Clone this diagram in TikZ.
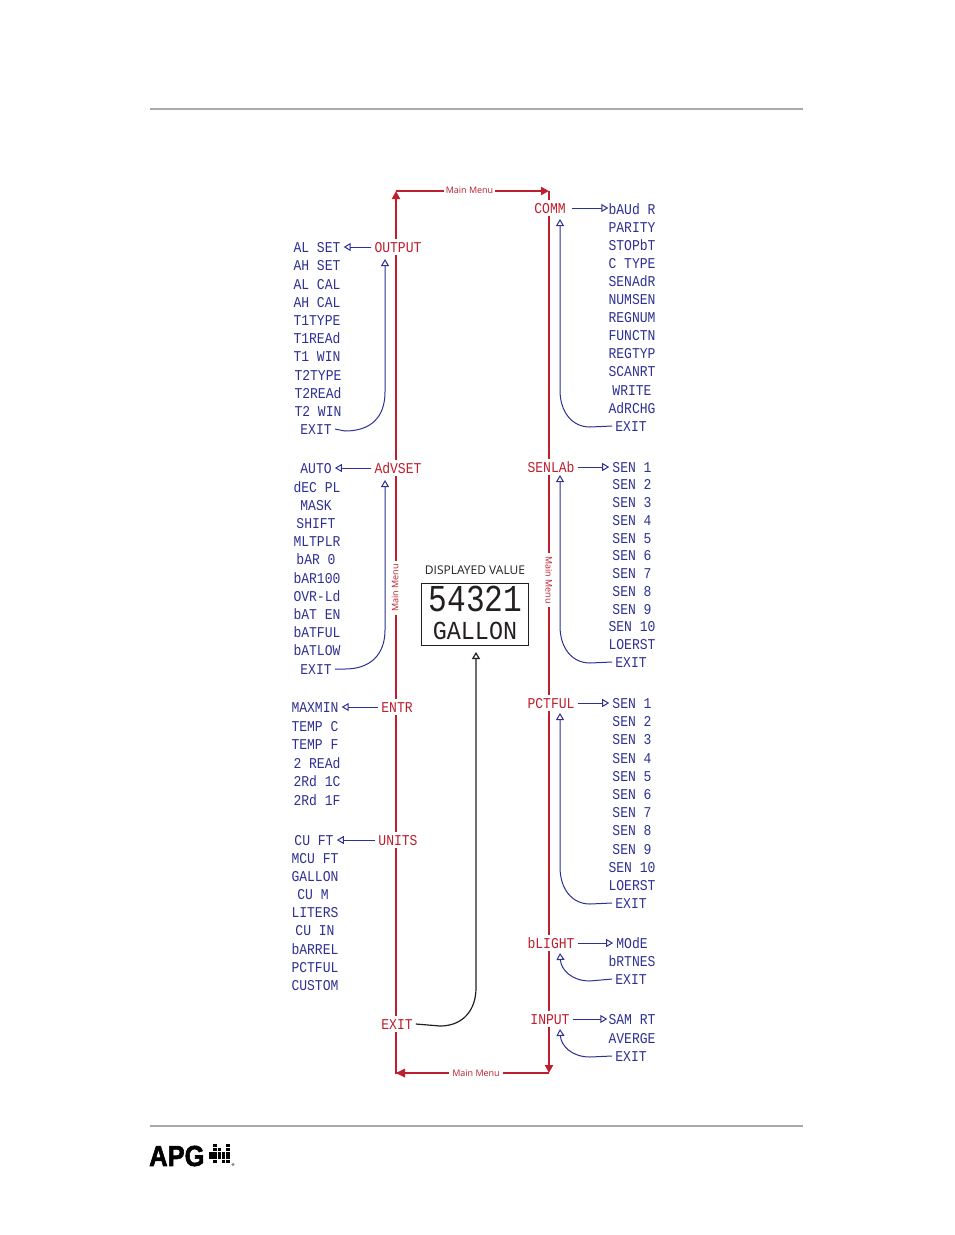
\documentclass[tikz,border=0pt]{standalone}
\usepackage{fontspec}
\usetikzlibrary{arrows.meta}
\setmainfont{Open Sans}
\newfontfamily\lcdsmall[FakeStretch=0.87]{Liberation Mono}
\newfontfamily\lcdnum[FakeStretch=0.82]{Liberation Mono}
\newfontfamily\lcdword[FakeStretch=0.9]{Liberation Mono}
\newfontface\logofont[FakeStretch=0.88,FakeBold=2]{Liberation Sans Bold}
\definecolor{menublue}{HTML}{2E3192}
\definecolor{menured}{HTML}{BE1E2D}
\definecolor{rulegrey}{HTML}{A7A9AC}
\definecolor{dispblack}{HTML}{231F20}
\tikzset{
  itemtext/.style={inner xsep=3pt,inner ysep=3pt,text height=10pt,text depth=0pt,font=\lcdsmall\fontsize{15}{15}\selectfont},
  subitem/.style={itemtext,text=menublue},
  headitem/.style={itemtext,text=menured},
  spine/.style={draw=menured,line width=2.4pt},
  spinearrow/.style={spine,-{Triangle[length=8pt,width=8pt]}},
  sub/.style={draw=menublue,line width=1pt},
  subarrow/.style={sub,-{Triangle[open,length=7pt,width=8pt]}},
  backarrow/.style={draw=dispblack,line width=1.2pt,-{Triangle[open,length=7pt,width=8pt]}},
  mainlabel/.style={font=\fontsize{9}{9}\selectfont,text=menured,inner sep=0pt},
  hrule/.style={draw=rulegrey,line width=2pt}
}
\newcommand{\itm}[4]{\node[subitem] (#1) at (#2,#3) {#4};}
\newcommand{\hed}[4]{\node[headitem] (#1) at (#2,#3) {#4};}
\begin{document}
\begin{tikzpicture}[x=1pt,y=-1pt]
\useasboundingbox[fill=white] (0,0) rectangle (954,1235);
% rules
\coordinate (t1) at (150,109); \coordinate (t2) at (803,109);
\coordinate (b1) at (150,1126); \coordinate (b2) at (803,1126);
\draw[hrule] (t1) -- (t2);
\draw[hrule] (b1) -- (b2);
% corners
\coordinate (tl) at (396,191); \coordinate (tr) at (549,191);
\coordinate (bl) at (396,1073); \coordinate (br) at (549,1073);
% heads
\hed{output}{398}{247}{OUTPUT}
\hed{advset}{398}{468}{AdVSET}
\hed{entr}{397}{707}{ENTR}
\hed{units}{398}{840}{UNITS}
\hed{lexit}{397}{1024}{EXIT}
\hed{comm}{550}{208}{COMM}
\hed{senlab}{551}{467}{SENLAb}
\hed{pctful}{551}{703}{PCTFUL}
\hed{blight}{551}{943}{bLIGHT}
\hed{input}{550}{1019}{INPUT}
% output items
\itm{o1}{317}{247}{AL SET}
\itm{o2}{317}{265}{AH SET}
\itm{o3}{317}{284}{AL CAL}
\itm{o4}{317}{302}{AH CAL}
\itm{o5}{317}{320}{T1TYPE}
\itm{o6}{317}{338}{T1REAd}
\itm{o7}{317}{356}{T1 WIN}
\itm{o8}{318}{375}{T2TYPE}
\itm{o9}{318}{393}{T2REAd}
\itm{o10}{318}{411}{T2 WIN}
\itm{o11}{316}{429}{EXIT}
% advset items
\itm{a1}{316}{468}{AUTO}
\itm{a2}{317}{487}{dEC PL}
\itm{a3}{316}{505}{MASK}
\itm{a4}{316}{523}{SHIFT}
\itm{a5}{317}{541}{MLTPLR}
\itm{a6}{316}{559}{bAR 0}
\itm{a7}{317}{578}{bAR100}
\itm{a8}{317}{596}{OVR-Ld}
\itm{a9}{317}{614}{bAT EN}
\itm{a10}{317}{632}{bATFUL}
\itm{a11}{317}{650}{bATLOW}
\itm{a12}{316}{669}{EXIT}
% entr items
\itm{e1}{315}{707}{MAXMIN}
\itm{e2}{315}{726}{TEMP C}
\itm{e3}{315}{744}{TEMP F}
\itm{e4}{317}{763}{2 REAd}
\itm{e5}{317}{781}{2Rd 1C}
\itm{e6}{317}{800}{2Rd 1F}
% units items
\itm{u1}{314}{840}{CU FT}
\itm{u2}{315}{858}{MCU FT}
\itm{u3}{315}{876}{GALLON}
\itm{u4}{313}{894}{CU M}
\itm{u5}{315}{912}{LITERS}
\itm{u6}{315}{930}{CU IN}
\itm{u7}{315}{949}{bARREL}
\itm{u8}{315}{967}{PCTFUL}
\itm{u9}{315}{985}{CUSTOM}
% comm items
\itm{c1}{632}{209}{bAUd R}
\itm{c2}{632}{227}{PARITY}
\itm{c3}{632}{245}{STOPbT}
\itm{c4}{632}{263}{C TYPE}
\itm{c5}{632}{281}{SENAdR}
\itm{c6}{632}{299}{NUMSEN}
\itm{c7}{632}{317}{REGNUM}
\itm{c8}{632}{335}{FUNCTN}
\itm{c9}{632}{353}{REGTYP}
\itm{c10}{632}{371}{SCANRT}
\itm{c11}{632}{390}{WRITE}
\itm{c12}{632}{408}{AdRCHG}
\itm{c13}{631}{426}{EXIT}
% senlab items
\itm{s1}{632}{467}{SEN  1}
\itm{s2}{632}{484}{SEN  2}
\itm{s3}{632}{502}{SEN  3}
\itm{s4}{632}{520}{SEN  4}
\itm{s5}{632}{538}{SEN  5}
\itm{s6}{632}{555}{SEN  6}
\itm{s7}{632}{573}{SEN  7}
\itm{s8}{632}{591}{SEN  8}
\itm{s9}{632}{609}{SEN  9}
\itm{s10}{632}{626}{SEN 10}
\itm{s11}{632}{644}{LOERST}
\itm{s12}{631}{662}{EXIT}
% pctful items
\itm{p1}{632}{703}{SEN  1}
\itm{p2}{632}{721}{SEN  2}
\itm{p3}{632}{739}{SEN  3}
\itm{p4}{632}{758}{SEN  4}
\itm{p5}{632}{776}{SEN  5}
\itm{p6}{632}{794}{SEN  6}
\itm{p7}{632}{812}{SEN  7}
\itm{p8}{632}{830}{SEN  8}
\itm{p9}{632}{849}{SEN  9}
\itm{p10}{632}{867}{SEN 10}
\itm{p11}{632}{885}{LOERST}
\itm{p12}{631}{903}{EXIT}
% blight items
\itm{l1}{632}{943}{MOdE}
\itm{l2}{632}{961}{bRTNES}
\itm{l3}{631}{979}{EXIT}
% input items
\itm{i1}{632}{1019}{SAM RT}
\itm{i2}{632}{1038}{AVERGE}
\itm{i3}{631}{1056}{EXIT}
% main menu labels
\node[mainlabel] (mtop) at (469.5,190) {Main Menu};
\node[mainlabel] (mbot) at (476,1073) {Main Menu};
\node[mainlabel,rotate=90] (mleft) at (395,588) {Main Menu};
\node[mainlabel,rotate=-90] (mright) at (549,580) {Main Menu};
% left spine
\draw[spine] (output.south -| tl) -- (advset.north -| tl);
\draw[spine] (advset.south -| tl) -- ([yshift=3pt]mleft.east -| tl);
\draw[spine] ([yshift=-3pt]mleft.west -| tl) -- (entr.north -| tl);
\draw[spine] (entr.south -| tl) -- (units.north -| tl);
\draw[spine] (units.south -| tl) -- (lexit.north -| tl);
\draw[spine] (lexit.south -| tl) -- (bl) -- ([xshift=-3pt]mbot.west);
\draw[spine] ([xshift=3pt]mbot.east) -- (br);
\draw[spinearrow] (output.north -| tl) -- (tl);
\draw[spine] (tl) -- ([xshift=-2pt]mtop.west |- tl);
\draw[spinearrow] ([xshift=2pt]mtop.east |- tr) -- (tr);
\draw[spine] (tr) -- (comm.north -| tr);
% bottom tips
\fill[menured] (bl) -- ++(9,-4.5) -- ++(0,9) -- cycle;
% right spine
\draw[spine] (comm.south -| tr) -- (senlab.north -| tr);
\draw[spine] (senlab.south -| tr) -- ([yshift=3pt]mright.west -| tr);
\draw[spine] ([yshift=-3pt]mright.east -| tr) -- (pctful.north -| tr);
\draw[spine] (pctful.south -| tr) -- (blight.north -| tr);
\draw[spine] (blight.south -| tr) -- (input.north -| tr);
\draw[spinearrow] (input.south -| tr) -- (br);
% sub-menu entry arrows
\draw[subarrow] (output.west) -- (output.west -| o1.east);
\draw[subarrow] (advset.west) -- (advset.west -| a1.east);
\draw[subarrow] (entr.west) -- (entr.west -| e1.east);
\draw[subarrow] (units.west) -- (units.west -| u1.east);
\draw[subarrow] ([xshift=3pt]comm.east) -- ([xshift=3pt]comm.east -| c1.west);
\draw[subarrow] (senlab.east) -- (senlab.east -| s1.west);
\draw[subarrow] (pctful.east) -- (pctful.east -| p1.west);
\draw[subarrow] (blight.east) -- (blight.east -| l1.west);
\draw[subarrow] (input.east) -- ([xshift=2pt]input.east -| i1.west);
% sub-menu return arrows
\coordinate (rt1) at (385,259); \coordinate (rt2) at (385,480);
\coordinate (rt3) at (560,219); \coordinate (rt4) at (560,475);
\coordinate (rt5) at (560,713); \coordinate (rt6) at (560,953);
\coordinate (rt7) at (560,1029);
\draw[subarrow] (o11.east) -- (345,431) .. controls (370,431) and (385,418) .. (385,392) -- (rt1);
\draw[subarrow] (a12.east) -- (345,669) .. controls (370,669) and (385,655) .. (385,630) -- (rt2);
\draw[subarrow] (c13.west) -- (590,427) .. controls (572,427) and (560,412) .. (560,390) -- (rt3);
\draw[subarrow] (s12.west) -- (590,663) .. controls (572,663) and (560,648) .. (560,626) -- (rt4);
\draw[subarrow] (p12.west) -- (590,904) .. controls (572,904) and (560,889) .. (560,867) -- (rt5);
\draw[subarrow] (l3.west) -- (590,981) .. controls (572,981) and (561,970) .. (rt6);
\draw[subarrow] (i3.west) -- (590,1057) .. controls (572,1057) and (561,1046) .. (rt7);
% display
\node[draw=dispblack,line width=1pt,minimum width=107pt,minimum height=62pt,inner sep=0pt] (disp) at (474.5,614) {};
\node[font=\fontsize{12}{12}\selectfont,text=dispblack,inner sep=0pt] (dispt) at (475,570) {DISPLAYED VALUE};
\node[font=\lcdnum\fontsize{38}{38}\selectfont,text=dispblack,inner sep=0pt] (dnum) at (475.5,599) {54321};
\node[font=\lcdword\fontsize{26}{26}\selectfont,text=dispblack,inner sep=0pt] (dgal) at (475,631) {GALLON};
\coordinate (dtip) at (476,652);
\draw[backarrow] (lexit.east) -- (440,1026) .. controls (463,1026) and (476,1010) .. (476,988) -- (dtip);
% logo
\node[font=\logofont\fontsize{29}{29}\selectfont,text=black,inner sep=0pt,anchor=west] (logo) at (149,1156) {APG};
\foreach \cx/\cy in {215.2/1145.3,227.8/1145.3,215.2/1149.6,219.4/1149.6,227.8/1149.6,
  211/1153.7,215.2/1153.7,219.4/1153.7,223.6/1153.7,227.8/1153.7,
  211/1157.5,215.2/1157.5,219.4/1157.5,223.6/1157.5,227.8/1157.5,
  215.2/1161.5,223.6/1161.5,227.8/1161.5}
  \fill[black] (\cx-1.8,\cy-1.8) rectangle (\cx+1.8,\cy+1.8);
\fill[rulegrey!80!black] (233,1164.5) circle (1.6);
\end{tikzpicture}
\end{document}
